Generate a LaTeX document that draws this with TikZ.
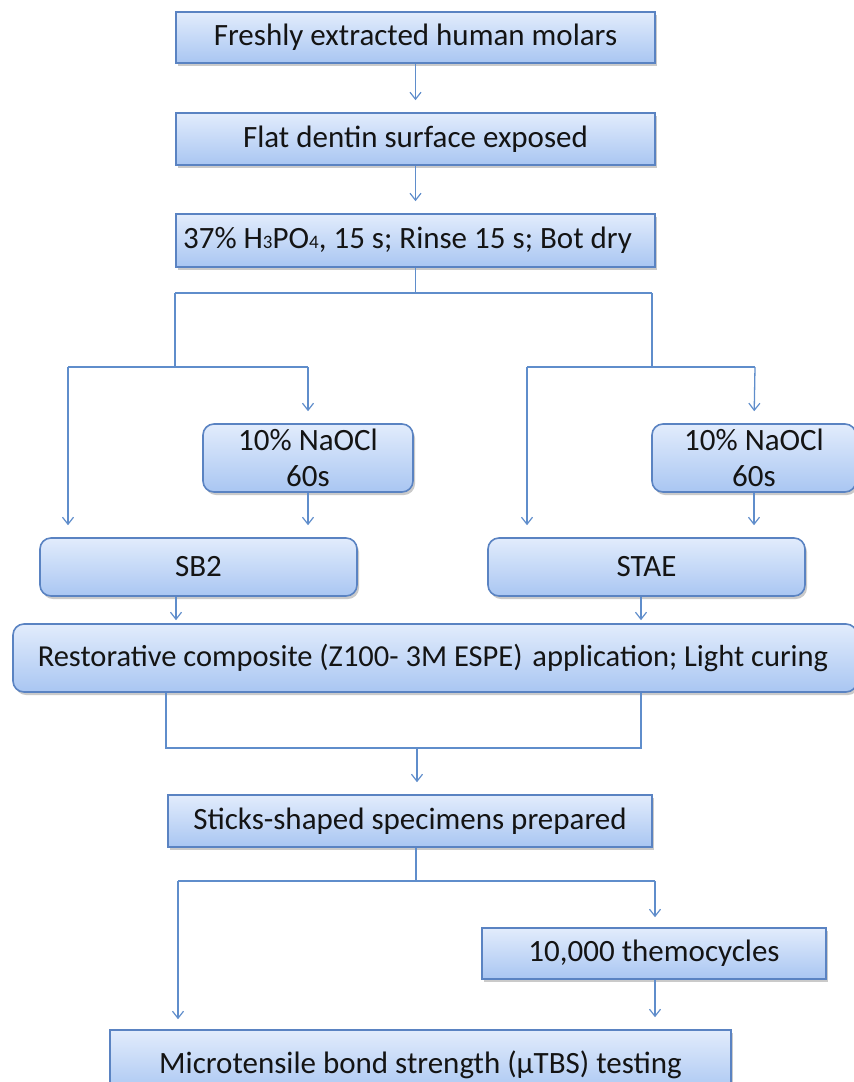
\documentclass[tikz,border=0pt]{standalone}
\usepackage{fontspec}
\setmainfont{Carlito}
\usetikzlibrary{arrows.meta,shadows}
\definecolor{boxline}{HTML}{5A83C2}
\definecolor{boxtop}{HTML}{E2ECFC}
\definecolor{boxbot}{HTML}{A9C6F2}
\definecolor{conn}{HTML}{5F8DCB}
\definecolor{txt}{HTML}{141414}
\tikzset{
  flowbox/.style={draw=boxline, line width=1.6pt, top color=boxtop, bottom color=boxbot,
    inner sep=0pt, text=txt, font=\fontsize{31}{36}\selectfont, align=center,
    drop shadow={shadow xshift=2pt, shadow yshift=-3pt, opacity=0.35, fill=black!60}},
  roundbox/.style={flowbox, rounded corners=11pt},
  conline/.style={draw=conn, line width=1.3pt},
  conarrow/.style={conline, -{Straight Barb[length=7pt,width=11pt,line width=1.2pt]}},
}
\begin{document}
\begin{tikzpicture}[x=1pt,y=-1pt]
\useasboundingbox (0,0) rectangle (854,1082);
\clip (0,0) rectangle (854,1082);
% boxes
\node[flowbox, minimum width=479pt, minimum height=51pt] (b1) at (415.5,37.5) {Freshly extracted human molars};
\node[flowbox, minimum width=479pt, minimum height=52pt] (b2) at (415.5,139) {Flat dentin surface exposed};
\node[flowbox, minimum width=479pt, minimum height=53pt] (b3) at (415.5,240.5) {37\% H{\fontsize{19}{19}\selectfont 3}PO{\fontsize{19}{19}\selectfont 4}, 15 s; Rinse 15 s; Bot dry\hspace{16pt}};
\node[roundbox, minimum width=210pt, minimum height=68pt] (n1) at (308,458) {10\% NaOCl\\60s};
\node[roundbox, minimum width=204pt, minimum height=68pt] (n2) at (754,458) {10\% NaOCl\\60s};
\node[roundbox, minimum width=317pt, minimum height=58pt] (sb2) at (198.5,567) {SB2};
\node[roundbox, minimum width=317pt, minimum height=58pt] (stae) at (646.5,567) {STAE};
\node[roundbox, minimum width=844pt, minimum height=68pt, font=\fontsize{30.5}{36}\selectfont] (rc) at (435,658) {Restorative composite (Z100- 3M ESPE)\hspace{3pt} application; Light curing\hspace{4pt}};
\node[flowbox, minimum width=484pt, minimum height=52pt] (st) at (410,821) {Sticks-shaped specimens prepared};
\node[flowbox, minimum width=344pt, minimum height=51pt] (th) at (654,953.5) {10,000 themocycles};
\node[flowbox, minimum width=621pt, minimum height=64pt, text depth=0pt] (mt) at (420.5,1062) {Microtensile bond strength (\textmu TBS) testing};
% junction coordinates
\coordinate (t3) at (415.5,293);
\coordinate (jL) at (175,293);
\coordinate (jR) at (652,293);
\coordinate (kL) at (175,367);
\coordinate (kR) at (652,367);
\coordinate (lL) at (68,367);
\coordinate (lR) at (308,367);
\coordinate (rL) at (527,367);
\coordinate (rR) at (755,367);
\coordinate (rcL) at (166,748);
\coordinate (rcR) at (641,748);
\coordinate (rcM) at (417,748);
\coordinate (s1) at (416,881);
\coordinate (sL) at (178,881);
\coordinate (sR) at (655,881);
% connectors
\draw[conarrow, shorten >=12pt] (b1.south) -- (b2.north);
\draw[conarrow, shorten >=12pt] (b2.south) -- (b3.north);
\draw[conline] (b3.south) -- (t3);
\draw[conline] (jL) -- (jR);
\draw[conline] (jL) -- (kL);
\draw[conline] (jR) -- (kR);
\draw[conline] (lL) -- (lR);
\draw[conline] (rL) -- (rR);
\draw[conarrow, shorten >=12pt] (lL) -- (lL |- sb2.north);
\draw[conarrow, shorten >=12pt] (lR) -- (n1.north);
\draw[conarrow, shorten >=12pt] (n1.south) -- (n1.south |- sb2.north);
\draw[conarrow, shorten >=12pt] (rL) -- (rL |- stae.north);
\draw[conarrow, shorten >=12pt] (rR) -- (n2.north);
\draw[conarrow, shorten >=12pt] (n2.south) -- (n2.south |- stae.north);
\draw[conarrow, shorten >=3pt] (sb2.south -| 176,0) -- (176,0 |- rc.north);
\draw[conarrow, shorten >=3pt] (stae.south -| 641,0) -- (641,0 |- rc.north);
\draw[conline] (rc.south -| rcL) -- (rcL) -- (rcR) -- (rc.south -| rcR);
\draw[conarrow, shorten >=12pt] (rcM) -- (rcM |- st.north);
\draw[conline] (st.south -| s1) -- (s1);
\draw[conline] (sL) -- (sR);
\draw[conarrow, shorten >=10pt] (sR) -- (sR |- th.north);
\draw[conarrow, shorten >=10pt] (sL) -- (sL |- mt.north);
\draw[conarrow, shorten >=12pt] (th.south -| sR) -- (sR |- mt.north);
\end{tikzpicture}
\end{document}
